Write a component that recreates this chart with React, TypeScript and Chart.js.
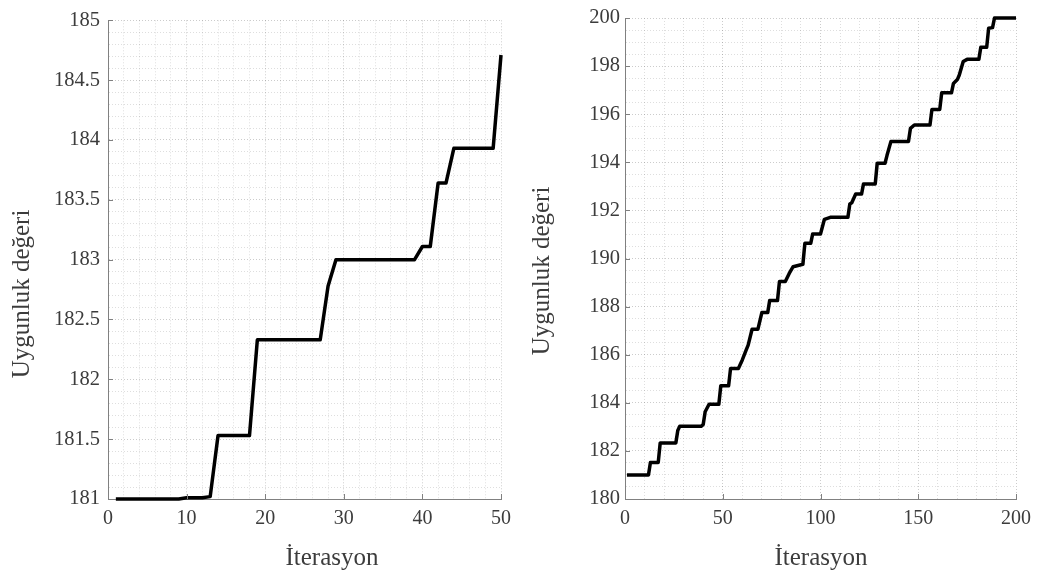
import { useEffect, useRef } from "react";
import { Chart, registerables } from "chart.js";

Chart.register(...registerables);

// ---- data ----
const leftIterations = [
  1, 2, 3, 4, 5, 6, 7, 8, 9, 10, 11, 12, 13, 14, 15, 16, 17, 18, 19, 20, 21, 22, 23, 24, 25,
  26, 27, 28, 29, 30, 31, 32, 33, 34, 35, 36, 37, 38, 39, 40, 41, 42, 43, 44, 45, 46, 47, 48, 49, 50,
];
const leftFitness = [
  181.0, 181.0, 181.0, 181.0, 181.0, 181.0, 181.0, 181.0, 181.0, 181.01,
  181.01, 181.01, 181.02, 181.53, 181.53, 181.53, 181.53, 181.53, 182.33, 182.33,
  182.33, 182.33, 182.33, 182.33, 182.33, 182.33, 182.33, 182.78, 183.0, 183.0,
  183.0, 183.0, 183.0, 183.0, 183.0, 183.0, 183.0, 183.0, 183.0, 183.11,
  183.11, 183.64, 183.64, 183.93, 183.93, 183.93, 183.93, 183.93, 183.93, 184.71,
];

// iterations at which the best fitness changes slope (flat runs given by their end points)
const rightIterations = [
  1, 12, 13, 17, 18, 26, 27, 28, 39, 40, 41, 43, 48, 49, 53, 54, 58, 60, 62, 63, 65, 68, 70, 73, 74,
  78, 79, 82, 84, 86, 91, 92, 95, 96, 100, 102, 105, 114, 115, 116, 118, 121, 122, 128, 129, 133,
  134, 136, 145, 146, 148, 156, 157, 161, 162, 167, 168, 170, 171, 173, 175, 181, 182, 185, 186,
  188, 189, 200,
];
const rightFitness = [
  181.0, 181.0, 181.52, 181.52, 182.33, 182.33, 182.85, 183.02, 183.02, 183.1, 183.63, 183.94,
  183.94, 184.71, 184.71, 185.43, 185.43, 185.78, 186.2, 186.4, 187.06, 187.06, 187.75, 187.75,
  188.25, 188.25, 189.04, 189.04, 189.38, 189.66, 189.76, 190.63, 190.63, 191.02, 191.02, 191.63,
  191.71, 191.71, 192.27, 192.32, 192.68, 192.68, 193.1, 193.1, 193.96, 193.96, 194.28, 194.86,
  194.86, 195.41, 195.55, 195.55, 196.2, 196.2, 196.89, 196.89, 197.28, 197.44, 197.63, 198.19,
  198.28, 198.28, 198.78, 198.78, 199.57, 199.6, 200.0, 200.0,
];

const leftXTicks = [0, 10, 20, 30, 40, 50];
const leftYTicks = [181, 181.5, 182, 182.5, 183, 183.5, 184, 184.5, 185];
const rightXTicks = [0, 50, 100, 150, 200];
const rightYTicks = [180, 182, 184, 186, 188, 190, 192, 194, 196, 198, 200];

const xTitle = "İterasyon";
const yTitle = "Uygunluk değeri";

// ---- style ----
const FONT = '"Liberation Serif", "Times New Roman", serif';
const TEXT = "#3c3c3c";
const AXIS = "#808080";
const GRID_MAJOR = "rgba(0,0,0,0.20)";
const GRID_MINOR = "rgba(0,0,0,0.13)";

const isMajor = (v: number, majors: number[]) => majors.some((m) => Math.abs(m - v) < 1e-6);

type Panel = {
  xs: number[];
  ys: number[];
  xMin: number;
  xMax: number;
  xStep: number;
  xMajors: number[];
  yMin: number;
  yMax: number;
  yStep: number;
  yMajors: number[];
  width: number;
  left: number;
  areaLeft: number;
  areaRight: number;
  yLabelPad: number;
  yTitleX: number;
  yTitleY: number;
  xTitleX: number;
};

const HEIGHT = 574;
const AREA_TOP = 18;
const AREA_BOTTOM = 499;

function makeConfig(p: Panel) {
  const points = p.xs.map((x, i) => ({ x, y: p.ys[i] }));

  const decor = {
    id: "decor",
    afterDraw(chart: any) {
      const ctx = chart.ctx as CanvasRenderingContext2D;
      const xs = chart.scales.x;
      const ys = chart.scales.y;
      const a = chart.chartArea;
      ctx.save();
      // inward tick marks
      ctx.strokeStyle = AXIS;
      ctx.lineWidth = 1;
      ctx.beginPath();
      p.xMajors.forEach((v) => {
        const px = Math.round(xs.getPixelForValue(v)) + 0.5;
        ctx.moveTo(px, a.bottom);
        ctx.lineTo(px, a.bottom - 5);
      });
      p.yMajors.forEach((v) => {
        const py = Math.round(ys.getPixelForValue(v)) + 0.5;
        ctx.moveTo(a.left, py);
        ctx.lineTo(a.left + 5, py);
      });
      ctx.stroke();
      // axis titles
      ctx.fillStyle = TEXT;
      ctx.font = `25px ${FONT}`;
      ctx.textAlign = "center";
      ctx.textBaseline = "alphabetic";
      ctx.fillText(xTitle, p.xTitleX, 565);
      ctx.translate(p.yTitleX, p.yTitleY);
      ctx.rotate(-Math.PI / 2);
      ctx.fillText(yTitle, 0, 0);
      ctx.restore();
    },
  };

  return {
    type: "line" as const,
    data: {
      datasets: [
        {
          data: points,
          borderColor: "#000000",
          borderWidth: 3.5,
          pointRadius: 0,
          tension: 0,
          fill: false,
          clip: false,
          borderJoinStyle: "round" as const,
          borderCapStyle: "butt" as const,
        },
      ],
    },
    options: {
      responsive: false,
      animation: false as const,
      events: [],
      layout: {
        padding: { left: 0, right: p.width - p.areaRight, top: AREA_TOP, bottom: 0 },
      },
      plugins: { legend: { display: false }, tooltip: { enabled: false } },
      scales: {
        x: {
          type: "linear" as const,
          min: p.xMin,
          max: p.xMax,
          afterFit: (s: any) => {
            s.height = HEIGHT - AREA_BOTTOM;
          },
          ticks: {
            stepSize: p.xStep,
            autoSkip: false,
            maxRotation: 0,
            padding: 8,
            color: TEXT,
            font: { family: FONT, size: 20 },
            callback: (v: any) => (isMajor(Number(v), p.xMajors) ? String(v) : ""),
          },
          grid: {
            drawTicks: false,
            color: (c: any) => (isMajor(c.tick?.value, p.xMajors) ? GRID_MAJOR : GRID_MINOR),
            lineWidth: 1,
          },
          border: { display: true, color: AXIS, width: 1, dash: [1, 2] },
        },
        y: {
          type: "linear" as const,
          min: p.yMin,
          max: p.yMax,
          afterFit: (s: any) => {
            s.width = p.areaLeft;
          },
          ticks: {
            stepSize: p.yStep,
            autoSkip: false,
            padding: p.yLabelPad,
            color: TEXT,
            font: { family: FONT, size: 20.5 },
            callback: (v: any) => {
              const n = Number(v);
              return isMajor(n, p.yMajors) ? String(Math.round(n * 10) / 10) : "";
            },
          },
          grid: {
            drawTicks: false,
            color: (c: any) => (isMajor(c.tick?.value, p.yMajors) ? GRID_MAJOR : GRID_MINOR),
            lineWidth: 1,
          },
          border: { display: true, color: AXIS, width: 1, dash: [1, 2] },
        },
      },
    },
    plugins: [decor],
  };
}

const leftPanel: Panel = {
  xs: leftIterations,
  ys: leftFitness,
  xMin: 0,
  xMax: 50,
  xStep: 2,
  xMajors: leftXTicks,
  yMin: 181,
  yMax: 185,
  yStep: 0.1,
  yMajors: leftYTicks,
  width: 520,
  left: 0,
  areaLeft: 108,
  areaRight: 501,
  yLabelPad: 8,
  yTitleX: 29,
  yTitleY: 294,
  xTitleX: 332,
};

const rightPanel: Panel = {
  xs: rightIterations,
  ys: rightFitness,
  xMin: 0,
  xMax: 200,
  xStep: 10,
  xMajors: rightXTicks,
  yMin: 180,
  yMax: 200,
  yStep: 0.5,
  yMajors: rightYTicks,
  width: 519,
  left: 520,
  areaLeft: 105,
  areaRight: 498,
  yLabelPad: 5,
  yTitleX: 29,
  yTitleY: 271,
  xTitleX: 301,
};

function PanelChart({ panel }: { panel: Panel }) {
  const ref = useRef<HTMLCanvasElement | null>(null);
  useEffect(() => {
    if (!ref.current) return;
    const chart = new Chart(ref.current, makeConfig(panel) as any);
    return () => chart.destroy();
  }, [panel]);
  return (
    <canvas
      ref={ref}
      width={panel.width}
      height={HEIGHT}
      style={{ position: "absolute", left: panel.left, top: 0, width: panel.width, height: HEIGHT }}
    />
  );
}

export default function App() {
  return (
    <div
      style={{
        position: "absolute",
        left: 0,
        top: 0,
        width: 1039,
        height: HEIGHT,
        background: "#ffffff",
        overflow: "hidden",
      }}
    >
      <PanelChart panel={leftPanel} />
      <PanelChart panel={rightPanel} />
    </div>
  );
}
